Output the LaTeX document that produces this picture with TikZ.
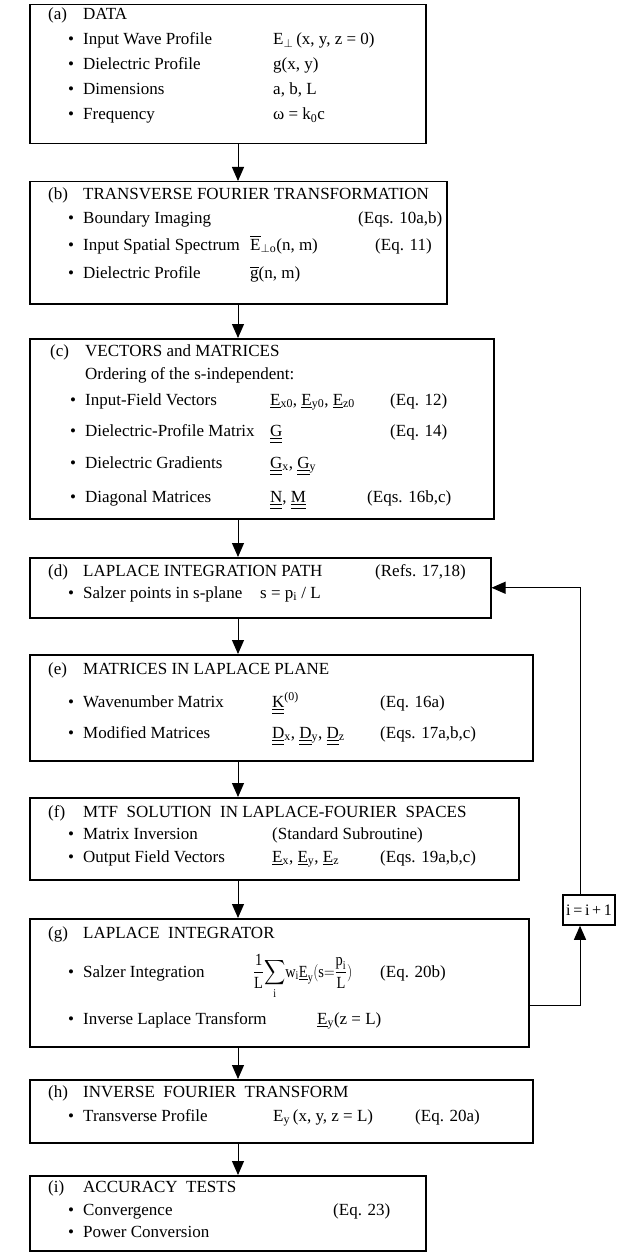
\documentclass[tikz,border=0pt]{standalone}
\usepackage{amsmath}
\usepackage{graphicx}
\usepackage{fontspec}
\setmainfont{Liberation Serif}
\usetikzlibrary{arrows.meta}
\newcommand{\dbl}[1]{$\underline{\underline{\mbox{#1}}}$}
\newcommand{\sgl}[1]{$\underline{\mbox{#1}}$}
\newcommand{\sbs}[1]{\textsubscript{#1}}
\newcommand{\bul}{\llap{\textbullet\hspace{9pt}}}
\newcommand{\lab}[1]{\makebox[35pt][l]{#1}}
\begin{document}
\begin{tikzpicture}[x=1pt,y=-1pt,
  box/.style={draw, line width=1.5pt, inner sep=0pt, anchor=north west},
  txt/.style={anchor=base west, inner sep=0pt, font=\fontsize{17}{21}\selectfont},
  arr/.style={line width=1pt, -{Triangle[width=12pt,length=14pt]}},
]
\useasboundingbox (0,0) rectangle (622,1252);
% boxes
\node[box, minimum width=396pt, minimum height=139pt] (a) at (29,4) {};
\node[box, minimum width=417pt, minimum height=122pt] (b) at (29,181) {};
\node[box, minimum width=464pt, minimum height=180pt] (c) at (29,338) {};
\node[box, minimum width=461pt, minimum height=60pt] (d) at (29,557) {};
\node[box, minimum width=503pt, minimum height=106pt] (e) at (29,654) {};
\node[box, minimum width=489pt, minimum height=82pt] (f) at (29,797) {};
\node[box, minimum width=499pt, minimum height=128pt] (g) at (29,918) {};
\node[box, minimum width=503pt, minimum height=63pt] (h) at (29,1079) {};
\node[box, minimum width=396pt, minimum height=75pt] (i) at (29,1175) {};
\node[box, anchor=center, minimum width=52pt, minimum height=30pt, font=\fontsize{16}{18}\selectfont] (inc) at (589,910) {i\,=\,i\,+\,1};
% (a)
\node[txt] (ta) at (48,20) {\lab{(a)}DATA};
\node[txt] (a1) at (83,45) {\bul Input Wave Profile};
\node[txt] (a1v) at (273,45) {E\sbs{$\perp$}\,(x, y, z = 0)};
\node[txt] (a2) at (83,70) {\bul Dielectric Profile};
\node[txt] (a2v) at (273,70) {g(x, y)};
\node[txt] (a3) at (83,95) {\bul Dimensions};
\node[txt] (a3v) at (273,95) {a, b, L};
\node[txt] (a4) at (83,120) {\bul Frequency};
\node[txt] (a4v) at (273,120) {ω = k\sbs{0}c};
% (b)
\node[txt] (tb) at (48,200) {\lab{(b)}TRANSVERSE FOURIER TRANSFORMATION};
\node[txt] (b1) at (83,223) {\bul Boundary Imaging};
\node[txt] (b1e) at (358,223) {(Eqs. 10a,b)};
\node[txt] (b2) at (83,250) {\bul Input Spatial Spectrum};
\node[txt] (b2v) at (250,250) {$\overline{\mbox{E}}$\sbs{$\perp$o}(n, m)};
\node[txt] (b2e) at (375,250) {(Eq. 11)};
\node[txt] (b3) at (83,278) {\bul Dielectric Profile};
\node[txt] (b3v) at (250,278) {$\overline{\mbox{g}}$(n, m)};
% (c)
\node[txt] (tc) at (50,356) {\lab{(c)}VECTORS and MATRICES};
\node[txt] (c0) at (85,379) {Ordering of the s-independent:};
\node[txt] (c1) at (85,405) {\bul Input-Field Vectors};
\node[txt] (c1v) at (270,405) {\sgl{E}\sbs{x0}, \sgl{E}\sbs{y0}, \sgl{E}\sbs{z0}};
\node[txt] (c1e) at (390,405) {(Eq. 12)};
\node[txt] (c2) at (85,436) {\bul Dielectric-Profile Matrix};
\node[txt] (c2v) at (270,436) {\dbl{G}};
\node[txt] (c2e) at (390,436) {(Eq. 14)};
\node[txt] (c3) at (85,468) {\bul Dielectric Gradients};
\node[txt] (c3v) at (270,468) {\dbl{G}\sbs{x}, \dbl{G}\sbs{y}};
\node[txt] (c4) at (85,502) {\bul Diagonal Matrices};
\node[txt] (c4v) at (270,502) {\dbl{N}, \dbl{M}};
\node[txt] (c4e) at (367,502) {(Eqs. 16b,c)};
% (d)
\node[txt] (td) at (48,576) {\lab{(d)}LAPLACE INTEGRATION PATH};
\node[txt] (tde) at (375,576) {(Refs. 17,18)};
\node[txt] (d1) at (83,598) {\bul Salzer points in s-plane};
\node[txt] (d1v) at (260,598) {s = p\sbs{i} / L};
% (e)
\node[txt] (te) at (48,674) {\lab{(e)}MATRICES IN LAPLACE PLANE};
\node[txt] (e1) at (83,707) {\bul Wavenumber Matrix};
\node[txt] (e1v) at (272,707) {\dbl{K}\textsuperscript{(0)}};
\node[txt] (e1e) at (380,707) {(Eq. 16a)};
\node[txt] (e2) at (83,738) {\bul Modified Matrices};
\node[txt] (e2v) at (272,738) {\dbl{D}\sbs{x}, \dbl{D}\sbs{y}, \dbl{D}\sbs{z}};
\node[txt] (e2e) at (380,738) {(Eqs. 17a,b,c)};
% (f)
\node[txt] (tf) at (48,817) {\lab{(f)}MTF\ \ SOLUTION\ \ IN LAPLACE-FOURIER\ \ SPACES};
\node[txt] (f1) at (83,839) {\bul Matrix Inversion};
\node[txt] (f1v) at (272,839) {(Standard Subroutine)};
\node[txt] (f2) at (83,862) {\bul Output Field Vectors};
\node[txt] (f2v) at (272,862) {\sgl{E}\sbs{x}, \sgl{E}\sbs{y}, \sgl{E}\sbs{z}};
\node[txt] (f2e) at (380,862) {(Eqs. 19a,b,c)};
% (g)
\node[txt] (tg) at (48,938) {\lab{(g)}LAPLACE\ \ INTEGRATOR};
\node[txt] (g1) at (83,977) {\bul Salzer Integration};
\node[txt] (g1v) at (253,977) {\scalebox{0.85}[1]{$\displaystyle\frac{\text{1}}{\text{L}}\!\sum_{\text{i}}\!\text{w}_{\text{i}}\underline{\text{E}}_{\text{y}}(\text{s}{=}\frac{\text{p}_{\text{i}}}{\text{L}})$}};
\node[txt] (g1e) at (380,977) {(Eq. 20b)};
\node[txt] (g2) at (83,1024) {\bul Inverse Laplace Transform};
\node[txt] (g2v) at (317,1024) {\sgl{E}\sbs{y}(z = L)};
% (h)
\node[txt] (th) at (48,1097) {\lab{(h)}INVERSE\ \ FOURIER\ \ TRANSFORM};
\node[txt] (h1) at (83,1121) {\bul Transverse Profile};
\node[txt] (h1v) at (273,1121) {E\sbs{y}\,(x, y, z = L)};
\node[txt] (h1e) at (415,1121) {(Eq. 20a)};
% (i)
\node[txt] (ti) at (48,1192) {\lab{(i)}ACCURACY\ \ TESTS};
\node[txt] (i1) at (83,1215) {\bul Convergence};
\node[txt] (i1e) at (333,1215) {(Eq. 23)};
\node[txt] (i2) at (83,1237) {\bul Power Conversion};
% arrows
\coordinate (ax) at (238,0);
\draw[arr] (a.south -| ax) -- (b.north -| ax);
\draw[arr] (b.south -| ax) -- (c.north -| ax);
\draw[arr] (c.south -| ax) -- (d.north -| ax);
\draw[arr] (d.south -| ax) -- (e.north -| ax);
\draw[arr] (e.south -| ax) -- (f.north -| ax);
\draw[arr] (f.south -| ax) -- (g.north -| ax);
\draw[arr] (g.south -| ax) -- (h.north -| ax);
\draw[arr] (h.south -| ax) -- (i.north -| ax);
% loop
\coordinate (lx) at (580,1005);
\draw[arr] (g.east |- lx) -- (lx) -- (lx |- inc.south);
\draw[arr] (lx |- inc.north) -- (lx |- d.east) -- (d.east);
\end{tikzpicture}
\end{document}
